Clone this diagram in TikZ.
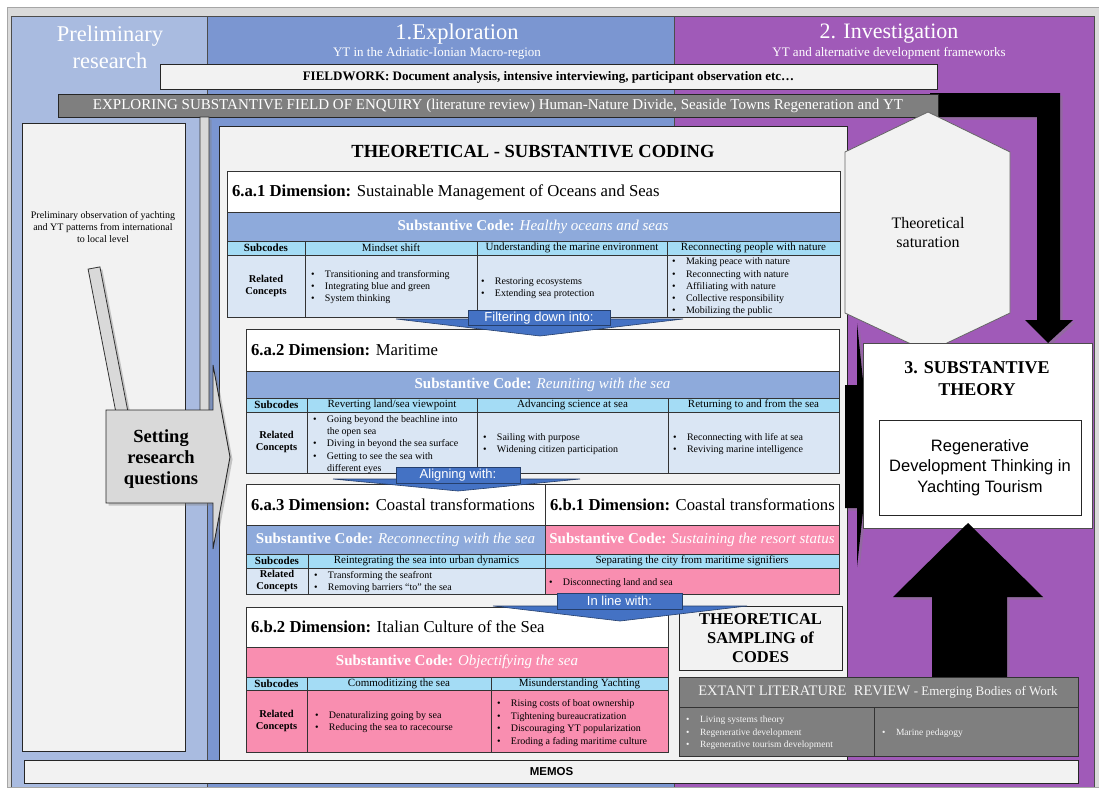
\documentclass[tikz,border=0pt]{standalone}
\usepackage{fontspec}
\setmainfont{Liberation Serif}
\newfontfamily\arialf{Liberation Sans}
\usetikzlibrary{shadows}
\newcommand\fs[2]{\fontsize{#1}{#2}\selectfont}
\newcommand\bl{\makebox[14pt][l]{\textbullet}}
\definecolor{prelim}{HTML}{A9BBE0}
\definecolor{explo}{HTML}{7B96D1}
\definecolor{invest}{HTML}{A05AB8}
\definecolor{framec}{HTML}{DADADA}
\definecolor{panelc}{HTML}{F2F2F2}
\definecolor{codeblue}{HTML}{8EAADB}
\definecolor{subblue}{HTML}{A4DCF5}
\definecolor{relblue}{HTML}{DAE6F4}
\definecolor{pinkc}{HTML}{F98EB0}
\definecolor{arrowblue}{HTML}{4472C4}
\definecolor{barc}{HTML}{7F7F7F}
\definecolor{lightarrow}{HTML}{D9D9D9}
\begin{document}
\begin{tikzpicture}[x=1pt,y=-1pt,
  every node/.style={inner sep=0pt, outer sep=0pt},
  cellb/.style={draw=black!80, line width=0.9pt},
  boxn/.style={draw=black!85, line width=0.9pt},
  blueArr/.style={fill=arrowblue, draw=arrowblue!55!black, line width=0.6pt},
  blabel/.style={blueArr, text=white, font={\arialf\fs{13}{15}}},
  shad/.style={drop shadow={opacity=0.4, shadow xshift=2.5pt, shadow yshift=-2.5pt}},
  dimt/.style={anchor=west, font=\fs{16.7}{20}},
  codet/.style={text=white, font=\fs{15}{18}},
  subt/.style={font=\fs{11}{13}},
  relt/.style={font=\fs{10.5}{12.5}\bfseries, align=center},
  listt/.style={anchor=west, align=left, font=\fs{10}{12.3}},
  colhead/.style={text=white, align=center}
]
\useasboundingbox (0,0) rectangle (1099,787);
\fill[white] (0,0) rectangle (1099,787);
% frame and columns
\draw[fill=framec, draw=gray!70] (7,7) rectangle (1099,787);
\fill[prelim] (11,16) rectangle (207,787);
\fill[explo] (207,16) rectangle (674,787);
\fill[invest] (674,16) rectangle (1094,787);
\draw[black!70, line width=0.8pt] (11,787) -- (11,16) -- (1094,16) -- (1094,787)
  (207,16) -- (207,787) (674,16) -- (674,787);
% headers
\node[colhead, font=\fs{22.5}{27}] (prelimT) at (110,47) {Preliminary\\research};
\node[colhead, font=\fs{22.5}{26}] (exploT) at (457,34) {1.Exploration};
\node[colhead, font=\fs{13}{14}] (exploS) at (437,53) {YT in the Adriatic-Ionian Macro-region};
\node[colhead, font=\fs{22}{26}] (invT) at (889,34) {2. Investigation};
\node[colhead, font=\fs{13}{14}] (invS) at (889,53) {YT and alternative development frameworks};
% black L arrow
\path[fill=black, shad] (930,93) -- (1060,93) -- (1060,320) -- (1073,320) -- (1048,343)
  -- (1025,320) -- (1037,320) -- (1037,117) -- (930,117) -- cycle;
% bars
\node[boxn, fill=panelc, minimum width=777pt, minimum height=25pt, font=\fs{13}{14}\bfseries]
  (field) at (548.5,77) {FIELDWORK: Document analysis, intensive interviewing, participant observation etc\ldots};
\node[boxn, fill=barc, minimum width=880pt, minimum height=23pt, text=white, font=\fs{15}{17}]
  (explore) at (498,105.5) {EXPLORING SUBSTANTIVE FIELD OF ENQUIRY (literature review) Human-Nature Divide, Seaside Towns Regeneration and YT};
% left panel and coding panel
\node[boxn, fill=panelc, minimum width=163pt, minimum height=628pt] (leftp) at (103.5,437) {};
\node[font=\fs{10}{12}, align=center] (prelimobs) at (103,227) {Preliminary observation of yachting\\and YT patterns from international\\to local level};
\node[boxn, fill=panelc, minimum width=628pt, minimum height=657pt] (codp) at (533,454.5) {};
\node[font=\fs{18.5}{21}\bfseries] (codtitle) at (533,152) {THEORETICAL - SUBSTANTIVE CODING};
% gray arrows
\path[fill=lightarrow, draw=black!80, line width=0.8pt, shad] (200,117) -- (209,117) -- (209,415) -- (217,415)
  -- (203,430) -- (189,415) -- (200,415) -- cycle;
\path[fill=lightarrow, draw=black!80, line width=0.8pt, shad] (88.1,269.1) -- (116.3,414.4) -- (110.4,415.6)
  -- (125,428) -- (133.9,411) -- (128,412.1) -- (99.9,266.9) -- cycle;
% setting research questions
\path[fill=lightarrow, draw=black!85, line width=0.9pt, shad] (106,410) -- (213,410) -- (213,365) -- (230,457)
  -- (213,549) -- (213,503) -- (106,503) -- cycle;
\node[font=\fs{18.5}{21}\bfseries, align=center] (setq) at (161,459) {Setting\\research\\questions};
% ===== 6.a.1 =====
\draw[cellb, fill=white] (227,171) rectangle (840,212);
\draw[cellb, fill=codeblue] (227,212) rectangle (840,241);
\draw[cellb, fill=subblue] (227,241) rectangle (840,255);
\draw[cellb, fill=relblue] (227,255) rectangle (840,317);
\draw[cellb] (305,241) -- (305,317) (477,241) -- (477,317) (667,241) -- (667,317);
\node[dimt] (d1) at (232,192) {\textbf{6.a.1 Dimension:} Sustainable Management of Oceans and Seas};
\node[codet] (c1) at (533,227) {\textbf{Substantive Code:} \textit{Healthy oceans and seas}};
\node[subt, font=\fs{11}{13}\bfseries] (s1a) at (266,248) {Subcodes};
\node[subt] (s1b) at (391,248) {Mindset shift};
\node[subt] (s1c) at (572,248) {Understanding the marine environment};
\node[subt] (s1d) at (753.5,248) {Reconnecting people with nature};
\node[relt] (r1a) at (266,286) {Related\\Concepts};
\node[listt] (r1b) at (311,287) {\bl Transitioning and transforming\\\bl Integrating blue and green\\\bl System thinking};
\node[listt] (r1c) at (481,288) {\bl Restoring ecosystems\\\bl Extending sea protection};
\node[listt] (r1d) at (672,287) {\bl Making peace with nature\\\bl Reconnecting with nature\\\bl Affiliating with nature\\\bl Collective responsibility\\\bl Mobilizing the public};
% ===== 6.a.2 =====
\draw[cellb, fill=white] (246,329) rectangle (839,371);
\draw[cellb, fill=codeblue] (246,371) rectangle (839,398);
\draw[cellb, fill=subblue] (246,398) rectangle (839,412);
\draw[cellb, fill=relblue] (246,412) rectangle (839,473);
\draw[cellb] (307,398) -- (307,473) (477,398) -- (477,473) (668,398) -- (668,473);
\node[dimt] (d2) at (251,350) {\textbf{6.a.2 Dimension:} Maritime};
\node[codet] (c2) at (542.5,385) {\textbf{Substantive Code:} \textit{Reuniting with the sea}};
\node[subt, font=\fs{11}{13}\bfseries] (s2a) at (276.5,405) {Subcodes};
\node[subt] (s2b) at (392,405) {Reverting land/sea viewpoint};
\node[subt] (s2c) at (572.5,405) {Advancing science at sea};
\node[subt] (s2d) at (753.5,405) {Returning to and from the sea};
\node[relt] (r2a) at (276.5,442) {Related\\Concepts};
\node[listt] (r2b) at (313,444.5) {\bl Going beyond the beachline into\\\hspace*{14pt}the open sea\\\bl Diving in beyond the sea surface\\\bl Getting to see the sea with\\\hspace*{14pt}different eyes};
\node[listt] (r2c) at (483,444) {\bl Sailing with purpose\\\bl Widening citizen participation};
\node[listt] (r2d) at (673,444) {\bl Reconnecting with life at sea\\\bl Reviving marine intelligence};
% ===== 6.a.3 / 6.b.1 =====
\draw[cellb, fill=white] (246,484) rectangle (545,525);
\draw[cellb, fill=codeblue] (246,525) rectangle (545,554);
\draw[cellb, fill=subblue] (246,554) rectangle (545,568);
\draw[cellb, fill=relblue] (246,568) rectangle (545,594);
\draw[cellb] (308,554) -- (308,594);
\draw[cellb, fill=white] (545,484) rectangle (839,525);
\draw[cellb, fill=pinkc] (545,525) rectangle (839,554);
\draw[cellb, fill=subblue] (545,554) rectangle (839,568);
\draw[cellb, fill=pinkc] (545,568) rectangle (839,594);
\node[dimt] (d3) at (251,505) {\textbf{6.a.3 Dimension:} Coastal transformations};
\node[dimt] (d4) at (550,505) {\textbf{6.b.1 Dimension:} Coastal transformations};
\node[codet] (c3) at (395.5,540) {\textbf{Substantive Code:} \textit{Reconnecting with the sea}};
\node[codet] (c4) at (692,540) {\textbf{Substantive Code:} \textit{Sustaining the resort status}};
\node[subt, font=\fs{11}{13}\bfseries] (s3a) at (277,561) {Subcodes};
\node[subt] (s3b) at (426.5,561) {Reintegrating the sea into urban dynamics};
\node[subt] (s4) at (692,561) {Separating the city from maritime signifiers};
\node[relt, font=\fs{10.5}{12}\bfseries] (r3a) at (277,581) {Related\\Concepts};
\node[listt, font=\fs{10}{12}] (r3b) at (314,582) {\bl Transforming the seafront\\\bl Removing barriers ``to'' the sea};
\node[listt] (r4) at (549,583) {\bl Disconnecting land and sea};
% ===== 6.b.2 =====
\draw[cellb, fill=white] (246,607) rectangle (668,647);
\draw[cellb, fill=pinkc] (246,647) rectangle (668,677);
\draw[cellb, fill=subblue] (246,677) rectangle (668,690);
\draw[cellb, fill=pinkc] (246,690) rectangle (668,752);
\draw[cellb] (307,677) -- (307,752) (491,677) -- (491,752);
\node[dimt] (d5) at (251,627) {\textbf{6.b.2 Dimension:} Italian Culture of the Sea};
\node[codet] (c5) at (457,662) {\textbf{Substantive Code:} \textit{Objectifying the sea}};
\node[subt, font=\fs{11}{13}\bfseries] (s5a) at (276.5,683.5) {Subcodes};
\node[subt] (s5b) at (399,683.5) {Commoditizing the sea};
\node[subt] (s5c) at (579.5,683.5) {Misunderstanding Yachting};
\node[relt] (r5a) at (276.5,721) {Related\\Concepts};
\node[listt] (r5b) at (315,722) {\bl Denaturalizing going by sea\\\bl Reducing the sea to racecourse};
\node[listt, font=\fs{10}{12.5}] (r5c) at (497,723) {\bl Rising costs of boat ownership\\\bl Tightening bureaucratization\\\bl Discouraging YT popularization\\\bl Eroding a fading maritime culture};
% ===== blue callout arrows =====
\draw[blueArr] (396,319) -- (683,319) -- (540,336) -- cycle;
\node[blabel, minimum width=142pt, minimum height=15pt] (filt) at (539,318) {Filtering down into:};
\draw[blueArr] (333,479) -- (580,479) -- (458,491) -- cycle;
\node[blabel, minimum width=124pt, minimum height=16pt] (align) at (458,475.5) {Aligning with:};
% theoretical sampling
\node[boxn, fill=panelc, minimum width=163pt, minimum height=64pt, font=\fs{16.5}{19}\bfseries, align=center]
  (tsamp) at (760.5,638) {THEORETICAL\\SAMPLING of\\CODES};
\draw[blueArr] (493,606) -- (747,606) -- (620,621) -- cycle;
\node[blabel, minimum width=125pt, minimum height=16pt] (inline) at (619.5,601) {In line with:};
% ===== right side =====
\path[fill=panelc, draw=black!60, line width=0.8pt] (928,112) -- (1010,152) -- (1010,313) -- (928,352)
  -- (845,313) -- (845,152) -- cycle;
\node[font=\fs{16}{19}, align=center] (sat) at (928,233) {Theoretical\\saturation};
\path[fill=black, shad] (845,385) -- (857,385) -- (857,323) -- (870,447) -- (857,567) -- (857,508)
  -- (845,508) -- cycle;
\node[draw=black!70, line width=0.8pt, fill=white, minimum width=229pt, minimum height=185pt] (subth) at (977.5,435.5) {};
\node[font=\fs{18}{22}\bfseries, align=center] (subtht) at (977,379) {3. SUBSTANTIVE\\THEORY};
\node[draw=black!85, line width=0.8pt, fill=white, minimum width=202pt, minimum height=95pt,
  font={\arialf\fs{16.5}{20.5}}, align=center] (regen) at (980,467.5) {Regenerative\\Development Thinking in\\Yachting Tourism};
\path[fill=black, shad] (932,680) -- (932,597) -- (893,597) -- (968,523) -- (1043,597) -- (1007,597)
  -- (1007,680) -- cycle;
% extant literature
\draw[cellb, fill=barc] (679,677) rectangle (1078,756);
\draw[cellb] (679,707) -- (1078,707) (874,707) -- (874,756);
\node[text=gray!8, font=\fs{14.5}{17}] (extant) at (878,692) {EXTANT LITERATURE\ \ REVIEW {\fs{13}{15}- Emerging Bodies of Work}};
\node[listt, text=gray!8, font=\fs{9.5}{12.5}] (ext1) at (686,733) {\bl Living systems theory\\\bl Regenerative development\\\bl Regenerative tourism development};
\node[listt, text=gray!8, font=\fs{9.5}{12.5}] (ext2) at (882,733) {\bl Marine pedagogy};
% memos
\node[boxn, fill=panelc, minimum width=1054pt, minimum height=23pt, font={\arialf\bfseries\fs{11.5}{13}}]
  (memos) at (551.5,771.5) {MEMOS};
\end{tikzpicture}
\end{document}
